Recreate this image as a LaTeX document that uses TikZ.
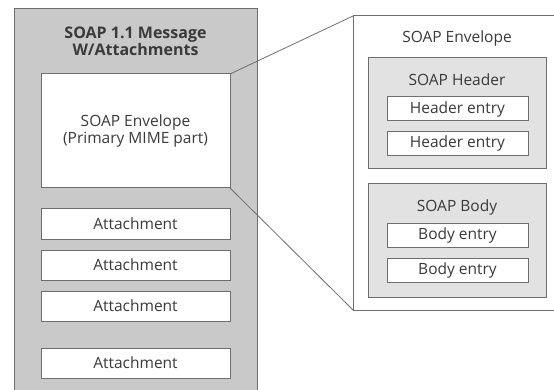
\documentclass[tikz,border=0pt]{standalone}
\usepackage{fontspec}
\setmainfont{Open Sans}
\definecolor{outergray}{HTML}{C9C9C9}
\definecolor{innergray}{HTML}{E2E2E2}
\definecolor{edgegray}{HTML}{6E6E6E}
\definecolor{txt}{HTML}{3A3A3A}
\begin{document}
\begin{tikzpicture}[x=1pt,y=-1pt,
  box/.style={draw=edgegray,line width=1pt,inner sep=0pt,outer sep=0pt,rectangle,text=txt,font=\fontsize{15.5}{17}\selectfont},
  whitebox/.style={box,fill=white},
  graybox/.style={box,fill=innergray},
  lbl/.style={text=txt,inner sep=0pt,font=\fontsize{15.5}{17}\selectfont,align=center}]
\useasboundingbox (0,0) rectangle (554,390);
\clip (0,0) rectangle (554,390);
% left outer box
\node[box,fill=outergray,minimum width=243pt,minimum height=392pt] (msg) at (135.5,205) {};
\node[lbl,font=\fontsize{16}{17}\selectfont\bfseries] (msgt) at (135.5,41.5) {SOAP 1.1 Message\\W/Attachments};
\node[whitebox,minimum width=189pt,minimum height=114pt,align=center] (env) at (135.5,131) {SOAP Envelope\\(Primary MIME part)};
\node[whitebox,minimum width=189pt,minimum height=30pt] (a1) at (135.5,224) {Attachment};
\node[whitebox,minimum width=189pt,minimum height=30pt] (a2) at (135.5,265) {Attachment};
\node[whitebox,minimum width=189pt,minimum height=30pt] (a3) at (135.5,306) {Attachment};
\node[whitebox,minimum width=189pt,minimum height=30pt] (a4) at (135.5,363) {Attachment};
% right envelope
\node[whitebox,minimum width=220pt,minimum height=294pt] (renv) at (463,163) {};
\node[lbl] (renvt) at (457,38) {SOAP Envelope};
\node[graybox,minimum width=178pt,minimum height=111pt] (hdr) at (457,113.5) {};
\node[lbl] (hdrt) at (457,80) {SOAP Header};
\node[whitebox,minimum width=141pt,minimum height=24pt] (h1) at (457.5,109) {Header entry};
\node[whitebox,minimum width=141pt,minimum height=24pt] (h2) at (457.5,143.5) {Header entry};
\node[graybox,minimum width=178pt,minimum height=113pt] (bdy) at (457,240.5) {};
\node[lbl] (bdyt) at (457,207) {SOAP Body};
\node[whitebox,minimum width=141pt,minimum height=24pt] (b1) at (457.5,235.5) {Body entry};
\node[whitebox,minimum width=141pt,minimum height=24pt] (b2) at (457.5,270.5) {Body entry};
% connectors
\draw[edgegray,line width=0.8pt] (env.north east) -- (renv.north west);
\draw[edgegray,line width=0.8pt] (env.south east) -- (renv.south west);
\end{tikzpicture}
\end{document}
